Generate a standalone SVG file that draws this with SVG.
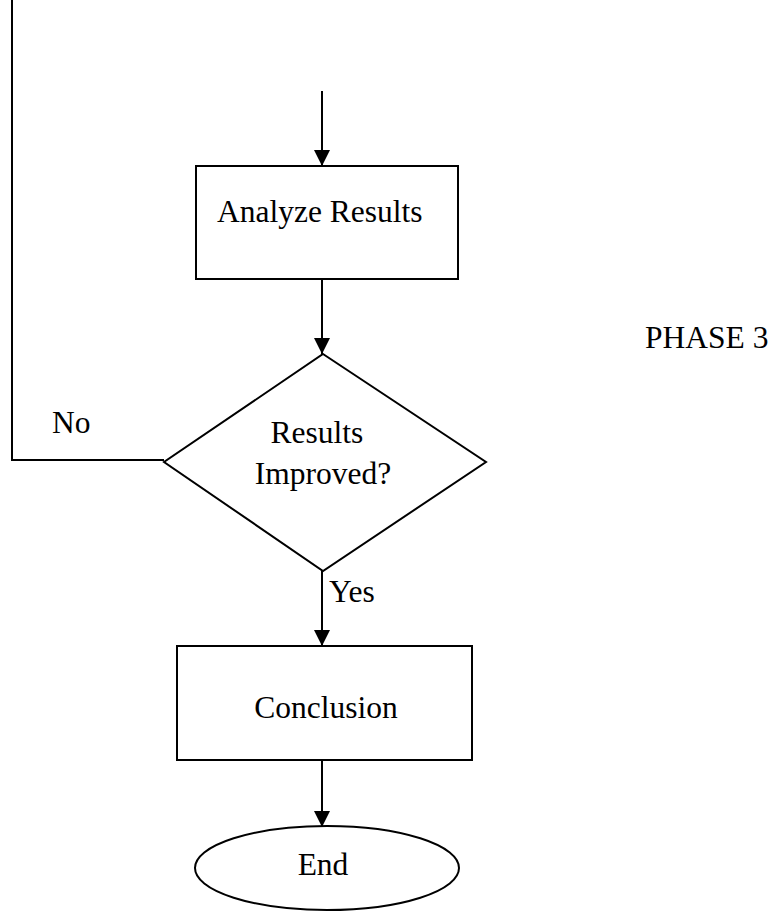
<svg xmlns="http://www.w3.org/2000/svg" width="772" height="911" viewBox="0 0 772 911">
  <style>
    .shape { fill: #ffffff; stroke: #000000; stroke-width: 2; }
    .wire { fill: none; stroke: #000000; stroke-width: 2; }
    text { font-family: "Liberation Serif", "Times New Roman", serif; font-size: 31.5px; fill: #000000; }
    .mid { text-anchor: middle; }
  </style>
  <defs>
    <marker id="arrow" markerUnits="userSpaceOnUse" markerWidth="16" markerHeight="16" refX="16" refY="8" orient="auto">
      <path d="M0,0 L16,8 L0,16 Z" fill="#000000"/>
    </marker>
  </defs>
  <rect width="772" height="911" fill="#ffffff"/>

  <g id="connectors">
    <line class="wire" x1="322" y1="91" x2="322" y2="166" marker-end="url(#arrow)"/>
    <line class="wire" x1="322" y1="279" x2="322" y2="354" marker-end="url(#arrow)"/>
    <polyline class="wire" points="164,460 12,460 12,0"/>
    <line class="wire" x1="322" y1="571" x2="322" y2="646" marker-end="url(#arrow)"/>
    <line class="wire" x1="322" y1="760" x2="322" y2="827" marker-end="url(#arrow)"/>
    <text x="52" y="433">No</text>
    <text x="329" y="602">Yes</text>
  </g>

  <g id="analyze">
    <rect class="shape" x="196" y="166" width="262" height="113"/>
    <text x="217" y="222">Analyze Results</text>
  </g>

  <g id="decision">
    <polygon class="shape" points="323,354 486,462 323,571 164,462"/>
    <text class="mid" x="317" y="443">Results</text>
    <text class="mid" x="323" y="484">Improved?</text>
  </g>

  <g id="conclusion">
    <rect class="shape" x="177" y="646" width="295" height="114"/>
    <text class="mid" x="326" y="718">Conclusion</text>
  </g>

  <g id="end">
    <ellipse class="shape" cx="327" cy="868" rx="132" ry="42"/>
    <text class="mid" x="323" y="875">End</text>
  </g>

  <g id="phase-label">
    <text x="645" y="348">PHASE 3</text>
  </g>
</svg>
